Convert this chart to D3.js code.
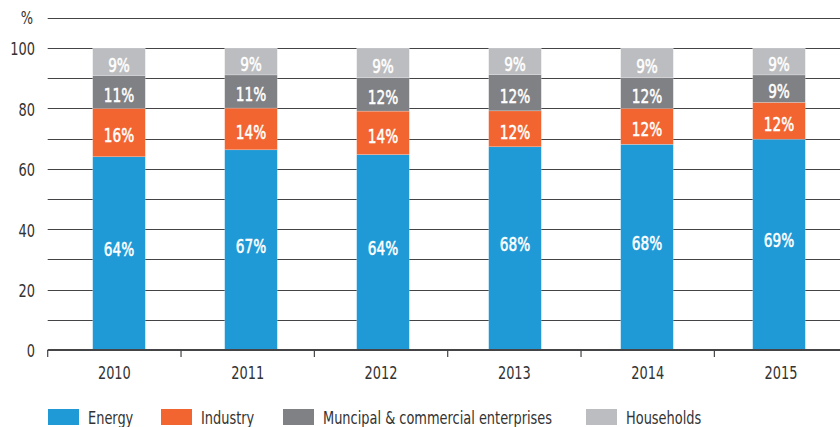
<!DOCTYPE html>
<html>
<head>
<meta charset="utf-8">
<script src="https://cdn.jsdelivr.net/npm/d3@7"></script>
<style>
  html, body { margin: 0; padding: 0; background: #fff; }
  svg { display: block; }
  text { font-family: "DejaVu Sans Condensed", "DejaVu Sans", sans-serif; }
</style>
</head>
<body>
<svg id="chart" width="840" height="427"></svg>
<script>
// ---- data ----
const years = ["2010", "2011", "2012", "2013", "2014", "2015"];
const seriesNames = ["Energy", "Industry", "Muncipal & commercial enterprises", "Households"];
const energy     = [64.0, 66.3, 64.7, 67.3, 68.1, 69.8];
const industry   = [16.0, 13.8, 14.4, 11.9, 11.9, 12.2];
const municipal  = [10.9, 11.0, 11.1, 12.0, 10.2,  9.1];
const households = [ 9.1,  8.9,  9.8,  8.8,  9.8,  8.9];
const energyLabels     = ["64%", "67%", "64%", "68%", "68%", "69%"];
const industryLabels   = ["16%", "14%", "14%", "12%", "12%", "12%"];
const municipalLabels  = ["11%", "11%", "12%", "12%", "12%", "9%"];
const householdLabels  = ["9%", "9%", "9%", "9%", "9%", "9%"];
const yTicks = [0, 20, 40, 60, 80, 100];
const gridValues = [0, 10, 20, 30, 40, 50, 60, 70, 80, 90, 100, 110];
const colors = ["#1f9ad6", "#f26531", "#808184", "#bcbdc0"];

// ---- build table ----
const seriesValues = [energy, industry, municipal, households];
const seriesLabels = [energyLabels, industryLabels, municipalLabels, householdLabels];
const keys = ["e", "i", "m", "h"];
const table = years.map((yr, i) => {
  const row = { year: yr };
  keys.forEach((k, j) => { row[k] = seriesValues[j][i]; });
  return row;
});
const stacked = d3.stack().keys(keys)(table);

// condensed look: horizontally squeeze the text
const SX = 0.8;
const place = (fx, fy) => (d, i) => `translate(${fx(d, i)},${fy(d, i)}) scale(${SX},1)`;

// ---- scales ----
const svg = d3.select("#chart");
const y = d3.scaleLinear().domain([0, 110]).range([350, 17.8]);
const xAxisScale = d3.scaleBand().domain(years).range([47.7, 847.7]);
const xBar = d3.scaleBand().domain(years).range([53, 845]).paddingInner(0.6015).paddingOuter(0.30075);

// ---- grid ----
svg.append("g").selectAll("line").data(gridValues).join("line")
  .attr("x1", 47.7).attr("x2", 840)
  .attr("y1", d => Math.round(y(d)) + 0.5).attr("y2", d => Math.round(y(d)) + 0.5)
  .attr("stroke", "#444446").attr("stroke-width", 1.2);

// ---- bars ----
const layers = svg.append("g").selectAll("g").data(stacked).join("g")
  .attr("fill", (d, i) => colors[i]);
layers.selectAll("rect").data(d => d).join("rect")
  .attr("x", d => xBar(d.data.year))
  .attr("width", xBar.bandwidth())
  .attr("y", d => y(d[1]))
  .attr("height", d => y(d[0]) - y(d[1]))
  .attr("stroke", "rgba(255,255,255,0.35)")
  .attr("stroke-width", 0.6);

// ---- bar labels ----
stacked.forEach((layer, si) => {
  svg.append("g").selectAll("text").data(layer).join("text")
    .attr("transform", place(
      d => xBar(d.data.year) + xBar.bandwidth() / 2,
      d => (y(d[0]) + y(d[1])) / 2 + (si === 0 ? -4 : 3)))
    .attr("dy", "0.36em")
    .attr("text-anchor", "middle")
    .attr("fill", "#ffffff")
    .attr("stroke", "#ffffff")
    .attr("stroke-width", 0.5)
    .attr("font-size", 19)
    .text((d, i) => seriesLabels[si][i]);
});

// ---- x axis ----
const xAxis = svg.append("g");
xAxis.append("line")
  .attr("x1", 47.7).attr("x2", 840).attr("y1", 350).attr("y2", 350)
  .attr("stroke", "#444446").attr("stroke-width", 2);
xAxis.selectAll("line.tick").data(years).join("line").attr("class", "tick")
  .attr("x1", d => xAxisScale(d)).attr("x2", d => xAxisScale(d))
  .attr("y1", 350).attr("y2", 357)
  .attr("stroke", "#444446").attr("stroke-width", 1.2);
xAxis.selectAll("text").data(years).join("text")
  .attr("transform", place(d => xAxisScale(d) + xAxisScale.bandwidth() / 2, () => 379))
  .attr("text-anchor", "middle")
  .attr("fill", "#333")
  .attr("font-size", 18)
  .text(d => d);

// ---- y axis labels ----
svg.append("g").selectAll("text").data(yTicks).join("text")
  .attr("transform", place(() => 35, d => y(d) + 1))
  .attr("dy", "0.36em")
  .attr("text-anchor", "end")
  .attr("fill", "#333")
  .attr("font-size", 18)
  .text(d => d);
svg.append("text")
  .attr("transform", place(() => 33, () => 17.5))
  .attr("dy", "0.36em")
  .attr("text-anchor", "end").attr("fill", "#333").attr("font-size", 18)
  .text("%");

// ---- legend ----
const legendX = [48, 161, 283, 586];
const legend = svg.append("g").selectAll("g").data(seriesNames).join("g")
  .attr("transform", (d, i) => `translate(${legendX[i]},409)`);
legend.append("rect").attr("width", 31).attr("height", 16).attr("fill", (d, i) => colors[i]);
legend.append("text")
  .attr("transform", `translate(40,14.5) scale(${SX},1)`)
  .attr("fill", "#333").attr("font-size", 18).text(d => d);
</script>
</body>
</html>
